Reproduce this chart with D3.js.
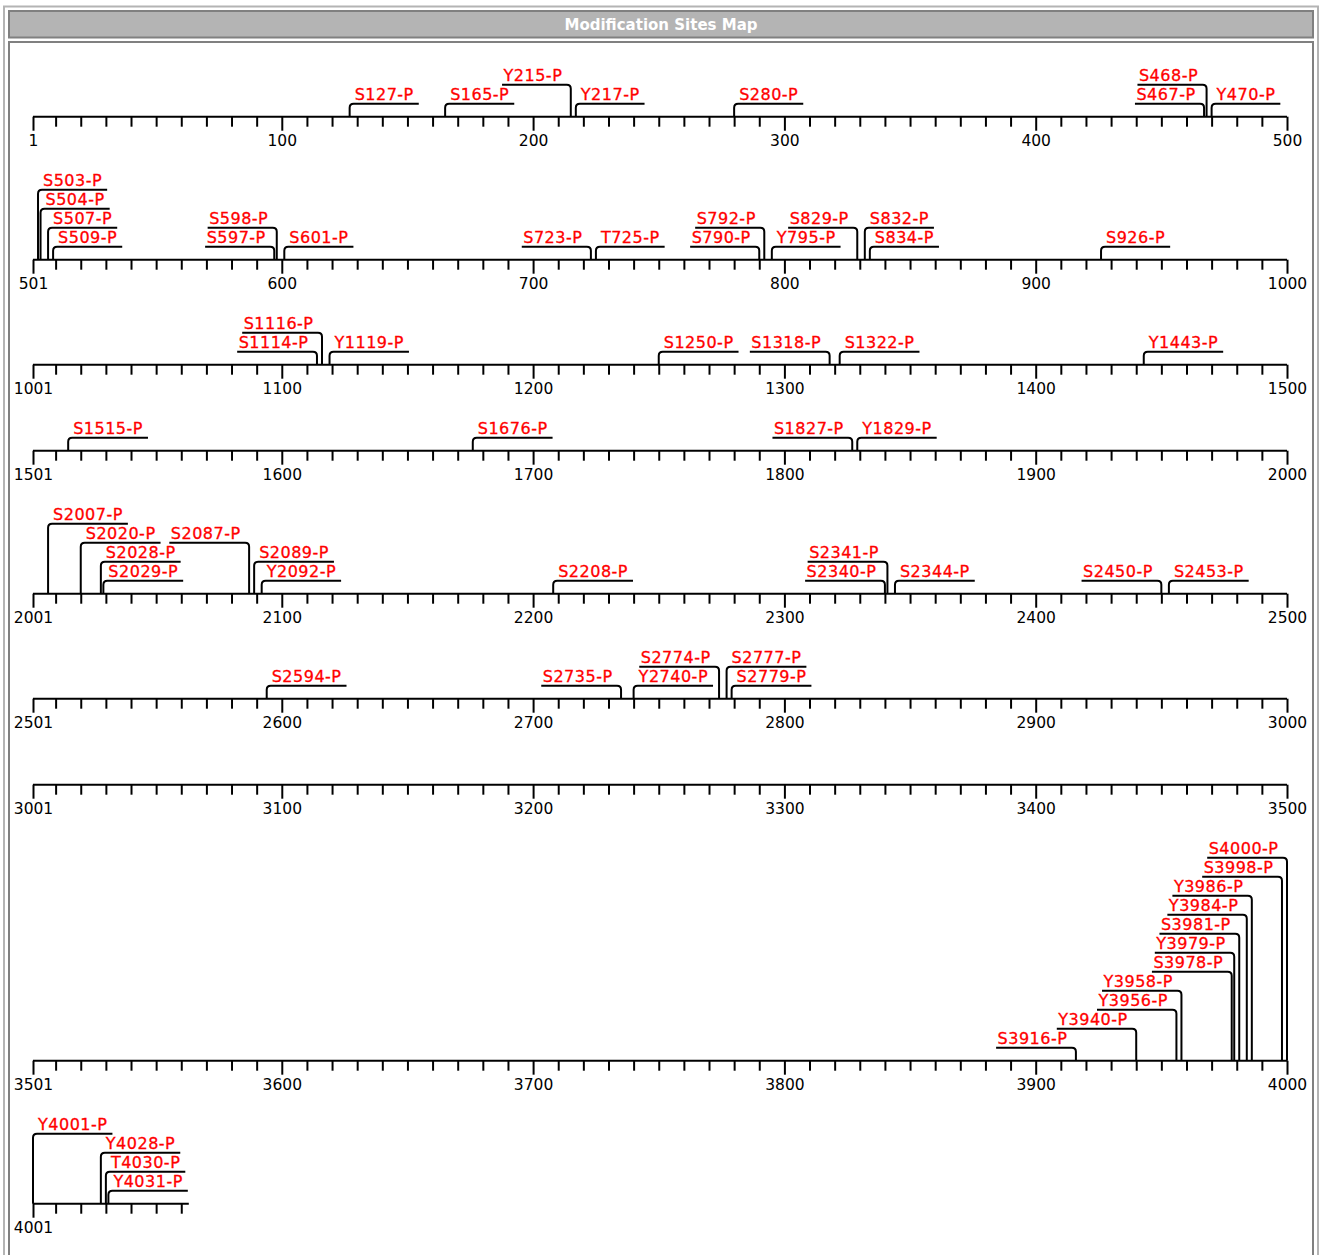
<!DOCTYPE html>
<html><head><meta charset="utf-8">
<script src="https://cdn.jsdelivr.net/npm/d3@7"></script>
<style>
body{margin:0;background:#fff;}
svg{display:block}
.lbl{font-family:'DejaVu Sans',sans-serif;font-size:16px;letter-spacing:0.5px;fill:#ff0000;stroke:#ff0000;stroke-width:0.3px;}
.tk text{font-family:'DejaVu Sans',sans-serif;font-size:15.5px;fill:#000;}
</style>
</head><body>
<svg id="chart" width="1320" height="1255"></svg>
<script>
// ---------------- data ----------------
const title = "Modification Sites Map";
const proteinLength = 4063;
const rowSize = 500;
const sitePositions = [127,165,215,217,280,467,468,470,
  503,504,507,509,597,598,601,723,725,790,792,795,829,832,834,926,
  1114,1116,1119,1250,1318,1322,1443,
  1515,1676,1827,1829,
  2007,2020,2028,2029,2087,2089,2092,2208,2340,2341,2344,2450,2453,
  2594,2735,2740,2774,2777,2779,
  3916,3940,3956,3958,3978,3979,3981,3984,3986,3998,4000,
  4001,4028,4030,4031];
const siteLabels = ["S127-P","S165-P","Y215-P","Y217-P","S280-P","S467-P","S468-P","Y470-P",
  "S503-P","S504-P","S507-P","S509-P","S597-P","S598-P","S601-P","S723-P","T725-P","S790-P","S792-P","Y795-P","S829-P","S832-P","S834-P","S926-P",
  "S1114-P","S1116-P","Y1119-P","S1250-P","S1318-P","S1322-P","Y1443-P",
  "S1515-P","S1676-P","S1827-P","Y1829-P",
  "S2007-P","S2020-P","S2028-P","S2029-P","S2087-P","S2089-P","Y2092-P","S2208-P","S2340-P","S2341-P","S2344-P","S2450-P","S2453-P",
  "S2594-P","S2735-P","Y2740-P","S2774-P","S2777-P","S2779-P",
  "S3916-P","Y3940-P","Y3956-P","Y3958-P","S3978-P","Y3979-P","S3981-P","Y3984-P","Y3986-P","S3998-P","S4000-P",
  "Y4001-P","Y4028-P","T4030-P","Y4031-P"];
const minorTickStep = 10;
const majorTickStep = 100;

// ---------------- layout constants ----------------
const X0 = 33, X1 = 1287;
const LEVEL1 = 13, LEVEL_STEP = 19, ROW_BASE = 67, FIRST_TOP = 78.7;

const svg = d3.select("#chart");

// frame
svg.append("rect").attr("x",4).attr("y",6.5).attr("width",1314).attr("height",1300)
  .attr("fill","none").attr("stroke","#b4b4b4").attr("stroke-width",2);
svg.append("rect").attr("x",9).attr("y",11).attr("width",1304).attr("height",26.5)
  .attr("fill","#b4b4b4").attr("stroke","#808080").attr("stroke-width",2);
svg.append("text").attr("x",661).attr("y",29.5).attr("text-anchor","middle")
  .attr("fill","#fff").style("font","bold 15px 'DejaVu Sans', sans-serif").text(title);
svg.append("rect").attr("x",9).attr("y",42).attr("width",1304).attr("height",1300)
  .attr("fill","#fff").attr("stroke","#808080").attr("stroke-width",2);

// text measuring
const meas = svg.append("text").attr("class","lbl").attr("x",-2000).attr("y",-2000);
function textW(s){ meas.text(s); return meas.node().getComputedTextLength(); }

// rows
const nRows = Math.ceil(proteinLength/rowSize);
const rows = d3.range(nRows).map(r => {
  const start = r*rowSize+1, end = Math.min((r+1)*rowSize, proteinLength);
  const x = d3.scaleLinear().domain([start, start+rowSize-1]).range([X0, X1]);
  const sites = sitePositions.map((p,i)=>({p, label: siteLabels[i]}))
    .filter(s=>s.p>=start && s.p<=end).sort((a,b)=>a.p-b.p);
  sites.forEach(s=>{ s.x = x(s.p); s.tw = textW(s.label); s.w = s.tw + 10; });
  return {start,end,x,sites};
});
meas.remove();

// label placement
function conflict(a,b){
  const m=1;
  if(a.L===b.L && a.x0 < b.x1+m && b.x0 < a.x1+m) return true;
  if(a.L>b.L && a.x > b.x0-m && a.x < b.x1+m) return true;
  if(b.L>a.L && b.x > a.x0-m && b.x < a.x1+m) return true;
  return false;
}
function placeOne(s, side, all){
  const x0 = side==="L" ? s.x - s.w : s.x;
  const x1 = side==="L" ? s.x : s.x + s.w;
  let L=1;
  while(true){
    const c = {s, side, x:s.x, x0, x1, L};
    if(!all.some(o=>conflict(c,o))) return c;
    L++;
  }
}
function placeCluster(cl,k,existing){
  const all = existing.slice(), res=[];
  for(let i=0;i<k;i++){ const c=placeOne(cl[i],"L",all); all.push(c); res.push(c); }
  for(let i=cl.length-1;i>=k;i--){ const c=placeOne(cl[i],"R",all); all.push(c); res.push(c); }
  return res;
}
rows.forEach(row=>{
  const clusters=[];
  row.sites.forEach((s,i)=>{
    if(i===0 || s.x - row.sites[i-1].x >= row.sites[i-1].w) clusters.push([s]);
    else clusters[clusters.length-1].push(s);
  });
  const placed=[];
  clusters.forEach(cl=>{
    const n=cl.length; let cands=[];
    for(let k=0;k<=n;k++){
      const ok = cl.slice(0,k).every(s=>s.x-s.w>=X0-4) && cl.slice(k).every(s=>s.x+s.w<=X1+4);
      if(!ok) continue;
      const t=placeCluster(cl,k,placed);
      cands.push({k,t,max:d3.max(t,d=>d.L)});
    }
    if(cands.some(c=>c.k<n)) cands=cands.filter(c=>c.k<n);
    cands.sort((a,b)=>a.max-b.max || b.k-a.k);
    placed.push(...cands[0].t);
  });
  row.placed=placed;
  row.levels=Math.max(1, d3.max(placed,d=>d.L)||0);
});

// row vertical positions
let yPrev=null;
rows.forEach((row,i)=>{
  row.y = i===0 ? FIRST_TOP + LEVEL_STEP*row.levels : yPrev + ROW_BASE + LEVEL_STEP*row.levels;
  yPrev=row.y;
});

const levelY = L => -(LEVEL1 + (L-1)*LEVEL_STEP);
const R=4;

rows.forEach(row=>{
  const g = svg.append("g").attr("transform",`translate(0,${row.y})`);
  const x=row.x;
  const minor=[row.start].concat(d3.range(Math.ceil((row.start)/minorTickStep)*minorTickStep, row.end+1, minorTickStep).filter(v=>v>row.start));
  const major=minor.filter(v=>v===row.start || v%majorTickStep===0);
  const minorOnly=minor.filter(v=>!major.includes(v));
  g.append("g").attr("class","tk")
    .call(d3.axisBottom(x).tickValues(minorOnly).tickSize(10).tickFormat(""))
    .call(a=>a.select(".domain").remove())
    .call(a=>a.selectAll("line").attr("stroke","#000").attr("stroke-width",2));
  g.append("g").attr("class","tk")
    .call(d3.axisBottom(x).tickValues(major).tickSize(14).tickPadding(4).tickFormat(d3.format("d")))
    .call(a=>a.select(".domain").remove())
    .call(a=>a.selectAll("line").attr("stroke","#000").attr("stroke-width",2))
    .call(a=>a.selectAll("text").attr("font-size",null).attr("font-family",null));
  g.append("line").attr("x1",x(row.start)).attr("x2",x(row.end)).attr("y1",0).attr("y2",0)
    .attr("stroke","#000").attr("stroke-width",2);

  // brackets
  g.selectAll("path.br").data(row.placed).join("path").attr("class","br")
    .attr("fill","none").attr("stroke","#000").attr("stroke-width",2)
    .attr("d",d=>{
      const yl=levelY(d.L), dir = d.side==="R"?1:-1;
      const end = d.side==="R"? d.x1 : d.x0;
      return `M${d.x},0 L${d.x},${yl+R} Q${d.x},${yl} ${d.x+dir*R},${yl} L${end},${yl}`;
    });
  g.selectAll("text.lbl").data(row.placed).join("text").attr("class","lbl")
    .attr("x",d=>d.side==="R"? d.x+5 : d.x0+1.5)
    .attr("y",d=>levelY(d.L)-3.5)
    .text(d=>d.s.label);
});
</script>
</body></html>
